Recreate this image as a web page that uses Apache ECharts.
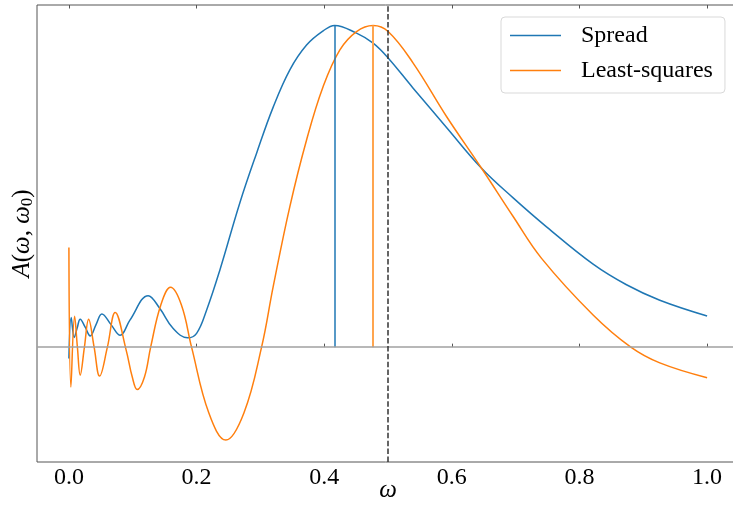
<!DOCTYPE html>
<html>
<head>
<meta charset="utf-8">
<script src="https://cdn.jsdelivr.net/npm/echarts@6/dist/echarts.min.js"></script>
<style>
html,body{margin:0;padding:0;background:#fff;}
#chart{width:733px;height:506px;}
</style>
</head>
<body>
<div id="chart"></div>
<script>
// ---- data ----
const spreadX = [0.0, 0.0036, 0.0083, 0.013, 0.0177, 0.0255, 0.0334, 0.0425, 0.0517, 0.066, 0.0804, 0.0956, 0.1242, 0.1425, 0.1634, 0.1860, 0.2001, 0.2157, 0.2366, 0.2679, 0.2941, 0.3201, 0.3462, 0.3724, 0.3984, 0.4163, 0.4507, 0.4767, 0.5002, 0.5394, 0.5917, 0.6466, 0.6961, 0.7484, 0.8214, 0.8737, 0.9259, 1.0];
const spreadY = [-0.035, 0.092, 0.030, 0.060, 0.087, 0.062, 0.035, 0.070, 0.103, 0.070, 0.037, 0.084, 0.160, 0.120, 0.058, 0.029, 0.043, 0.115, 0.240, 0.449, 0.603, 0.746, 0.862, 0.939, 0.983, 1.000, 0.976, 0.945, 0.899, 0.805, 0.683, 0.556, 0.464, 0.374, 0.258, 0.194, 0.146, 0.097];

const lsqX = [0.0, 0.0031, 0.0089, 0.0133, 0.0177, 0.0243, 0.0309, 0.0395, 0.0481, 0.0603, 0.0725, 0.0898, 0.0993, 0.1070, 0.1184, 0.1281, 0.1440, 0.1593, 0.1763, 0.1922, 0.2193, 0.2460, 0.2742, 0.3019, 0.3201, 0.3462, 0.3724, 0.3984, 0.4246, 0.4507, 0.4767, 0.5002, 0.5394, 0.5917, 0.6466, 0.6961, 0.7406, 0.8214, 0.8805, 0.9259, 1.0];
const lsqY = [0.310, -0.124, 0.096, 0.0, -0.087, 0.0, 0.087, 0.0, -0.090, 0.0, 0.108, -0.010, -0.093, -0.132, -0.093, 0.0, 0.131, 0.186, 0.131, 0.0, -0.205, -0.289, -0.205, 0.0, 0.188, 0.437, 0.644, 0.810, 0.924, 0.981, 1.000, 0.981, 0.883, 0.717, 0.556, 0.406, 0.276, 0.100, 0.0, -0.049, -0.095];

const seriesNames = ['Spread', 'Least-squares'];
const peakSpread = 0.4163;   // omega at maximum of Spread
const peakLsq = 0.4767;      // omega at maximum of Least-squares
const peakValue = 1.0;
const omega0 = 0.5;
const xTicks = [0.0, 0.2, 0.4, 0.6, 0.8, 1.0];
const xRange = [-0.05, 1.05];
const yRange = [-0.357, 1.0635];

// ---- chart ----
const blue = '#1f77b4', orange = '#ff7f0e';
const font = 'Liberation Serif, DejaVu Serif, serif';
const pairs = (xs, ys) => xs.map((x, i) => [x, ys[i]]);

const chart = echarts.init(document.getElementById('chart'), null, {renderer: 'canvas'});
chart.setOption({
  animation: false,
  backgroundColor: '#fff',
  grid: {left: 37, top: 5, width: 702, height: 457, show: true, borderColor: '#555', borderWidth: 1,
    containLabel: false, outerBoundsMode: 'none'},
  legend: {
    orient: 'vertical', left: 501, top: 17,
    data: seriesNames,
    icon: 'rect', itemWidth: 51, itemHeight: 1.5, itemGap: 8,
    padding: [5, 12, 9, 9],
    borderColor: '#d9d9d9', borderWidth: 1, borderRadius: 4,
    backgroundColor: 'rgba(255,255,255,0.8)',
    textStyle: {fontFamily: font, fontSize: 24, color: '#000', lineHeight: 27, padding: [0, 0, 0, 15]}
  },
  xAxis: [{
    type: 'value', min: xRange[0], max: xRange[1], position: 'bottom',
    name: 'ω', nameLocation: 'middle', nameGap: 16, nameMoveOverlap: false,
    nameTextStyle: {fontFamily: font, fontSize: 25, fontStyle: 'italic', color: '#000'},
    axisLine: {show: false},
    axisTick: {show: true, inside: true, length: 3.5, lineStyle: {color: '#555'}, customValues: xTicks},
    axisLabel: {show: true, customValues: xTicks, fontFamily: font, fontSize: 24, color: '#000', margin: 4,
      formatter: v => v.toFixed(1)},
    splitLine: {show: false}
  }, {
    type: 'value', min: xRange[0], max: xRange[1], position: 'top',
    axisLine: {show: false},
    axisTick: {show: true, inside: true, length: 3.5, lineStyle: {color: '#555'}, customValues: xTicks},
    axisLabel: {show: false},
    splitLine: {show: false}
  }],
  yAxis: {
    type: 'value', min: yRange[0], max: yRange[1],
    name: '{i|A}{n|(}{i|ω}{n|, }{i|ω}{s|0}{n|)}',
    nameLocation: 'middle', nameRotate: 90, nameGap: 1, nameMoveOverlap: false,
    nameTextStyle: {
      fontFamily: font, fontSize: 25, color: '#000',
      rich: {
        i: {fontFamily: font, fontSize: 25, fontStyle: 'italic', color: '#000'},
        n: {fontFamily: font, fontSize: 25, color: '#000'},
        s: {fontFamily: font, fontSize: 17, color: '#000', padding: [10, 0, 0, 0]}
      }
    },
    axisLine: {show: false}, axisTick: {show: false}, axisLabel: {show: false}, splitLine: {show: false}
  },
  series: [{
    name: seriesNames[0], type: 'line', data: pairs(spreadX, spreadY),
    showSymbol: false, smooth: 0.4,
    lineStyle: {color: blue, width: 1.5}, itemStyle: {color: blue}, z: 3,
    markLine: {
      silent: true, symbol: 'none', label: {show: false},
      data: [
        [{coord: [peakSpread, 0]}, {coord: [peakSpread, peakValue]}]
      ],
      lineStyle: {color: blue, width: 1.5, type: 'solid'}
    }
  }, {
    name: seriesNames[1], type: 'line', data: pairs(lsqX, lsqY),
    showSymbol: false, smooth: 0.4,
    lineStyle: {color: orange, width: 1.5}, itemStyle: {color: orange}, z: 3,
    markLine: {
      silent: true, symbol: 'none', label: {show: false},
      data: [
        [{coord: [peakLsq, 0]}, {coord: [peakLsq, peakValue]}]
      ],
      lineStyle: {color: '#ffa54f', width: 2, type: 'solid'}
    }
  }, {
    name: 'ref', type: 'line', data: [],
    markLine: {
      silent: true, symbol: 'none', label: {show: false},
      data: [
        {yAxis: 0, lineStyle: {color: '#a0a0a0', width: 1.5, type: 'solid'}},
        {xAxis: omega0, lineStyle: {color: '#333', width: 1.5, type: [5.5, 2.4]}}
      ]
    }
  }]
});
</script>
</body>
</html>
